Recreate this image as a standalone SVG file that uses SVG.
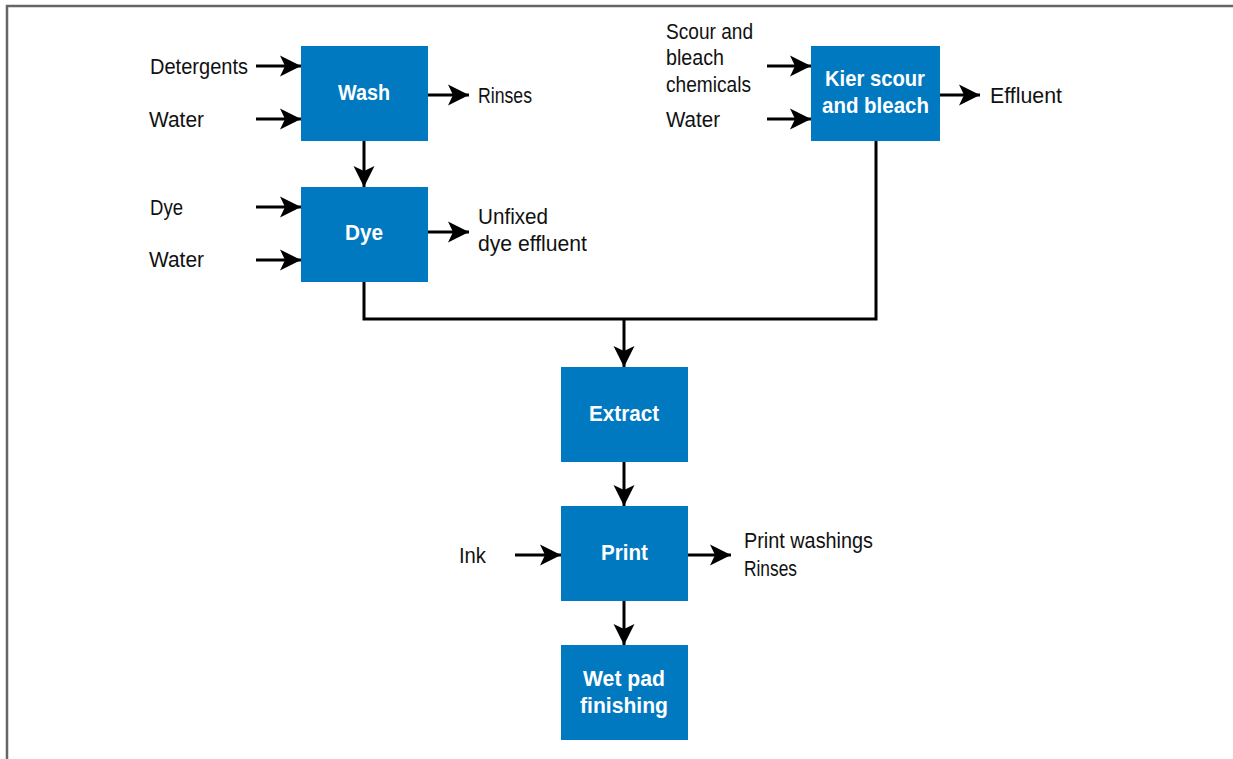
<svg xmlns="http://www.w3.org/2000/svg" width="1233" height="759" viewBox="0 0 1233 759">
<style>
.box{fill:#0079c1}
.bt{font-family:"Liberation Sans",Arial,sans-serif;font-size:22px;font-weight:bold;fill:#fff}
.lb{font-family:"Liberation Sans",Arial,sans-serif;font-size:22px;fill:#111}
.ln{fill:none;stroke:#000;stroke-width:3}
.ar{fill:none;stroke:#000;stroke-width:3;marker-end:url(#ah)}
</style>
<defs>
<marker id="ah" markerUnits="userSpaceOnUse" markerWidth="26" markerHeight="26" viewBox="-2 -13 26 26" refX="21" refY="0" orient="auto">
<path d="M0,-10.5 L21,0 L0,10.5 L5,0 Z" fill="#000"/>
</marker>
</defs>
<rect width="1233" height="759" fill="#fff"/>
<path d="M7,759 V6 H1233" fill="none" stroke="#666" stroke-width="2.5"/>

<g id="connectors">
<path class="ar" d="M256,66 H301"/>
<path class="ar" d="M256,119 H301"/>
<path class="ar" d="M428,95 H469"/>
<path class="ar" d="M256,207 H301"/>
<path class="ar" d="M256,260 H301"/>
<path class="ar" d="M428,232 H469"/>
<path class="ar" d="M767,66 H811"/>
<path class="ar" d="M767,119 H811"/>
<path class="ar" d="M940,95 H980"/>
<path class="ar" d="M364,141 V187"/>
<path class="ln" d="M364,282 V319 H876 V141"/>
<path class="ar" d="M624,319 V367"/>
<path class="ar" d="M624,462 V506"/>
<path class="ar" d="M624,601 V645"/>
<path class="ar" d="M515,555 H561"/>
<path class="ar" d="M688,555 H731"/>
</g>

<g id="wash">
<rect class="box" x="301" y="46" width="127" height="95"/>
<text class="bt" x="338" y="100" textLength="52" lengthAdjust="spacingAndGlyphs">Wash</text>
</g>
<g id="dye">
<rect class="box" x="301" y="187" width="127" height="95"/>
<text class="bt" x="345" y="240" textLength="38" lengthAdjust="spacingAndGlyphs">Dye</text>
</g>
<g id="kier">
<rect class="box" x="811" y="46" width="129" height="95"/>
<text class="bt" x="825" y="86" textLength="100" lengthAdjust="spacingAndGlyphs">Kier scour</text>
<text class="bt" x="822" y="113" textLength="107" lengthAdjust="spacingAndGlyphs">and bleach</text>
</g>
<g id="extract">
<rect class="box" x="561" y="367" width="127" height="95"/>
<text class="bt" x="589" y="421" textLength="70" lengthAdjust="spacingAndGlyphs">Extract</text>
</g>
<g id="print">
<rect class="box" x="561" y="506" width="127" height="95"/>
<text class="bt" x="601" y="560" textLength="47" lengthAdjust="spacingAndGlyphs">Print</text>
</g>
<g id="wetpad">
<rect class="box" x="561" y="645" width="127" height="95"/>
<text class="bt" x="583" y="686" textLength="82" lengthAdjust="spacingAndGlyphs">Wet pad</text>
<text class="bt" x="580" y="713" textLength="88" lengthAdjust="spacingAndGlyphs">finishing</text>
</g>

<g id="labels">
<text class="lb" x="150" y="74" textLength="98" lengthAdjust="spacingAndGlyphs">Detergents</text>
<text class="lb" x="149" y="127" textLength="55" lengthAdjust="spacingAndGlyphs">Water</text>
<text class="lb" x="478" y="103" textLength="54" lengthAdjust="spacingAndGlyphs">Rinses</text>
<text class="lb" x="150" y="215" textLength="33" lengthAdjust="spacingAndGlyphs">Dye</text>
<text class="lb" x="149" y="267" textLength="55" lengthAdjust="spacingAndGlyphs">Water</text>
<text class="lb" x="478" y="224" textLength="70" lengthAdjust="spacingAndGlyphs">Unfixed</text>
<text class="lb" x="478" y="251" textLength="109" lengthAdjust="spacingAndGlyphs">dye effluent</text>
<text class="lb" x="666" y="39" textLength="87" lengthAdjust="spacingAndGlyphs">Scour and</text>
<text class="lb" x="666" y="65" textLength="58" lengthAdjust="spacingAndGlyphs">bleach</text>
<text class="lb" x="666" y="92" textLength="85" lengthAdjust="spacingAndGlyphs">chemicals</text>
<text class="lb" x="666" y="127" textLength="54" lengthAdjust="spacingAndGlyphs">Water</text>
<text class="lb" x="990" y="103" textLength="72" lengthAdjust="spacingAndGlyphs">Effluent</text>
<text class="lb" x="459" y="563" textLength="27" lengthAdjust="spacingAndGlyphs">Ink</text>
<text class="lb" x="744" y="548" textLength="129" lengthAdjust="spacingAndGlyphs">Print washings</text>
<text class="lb" x="744" y="576" textLength="53" lengthAdjust="spacingAndGlyphs">Rinses</text>
</g>
</svg>
